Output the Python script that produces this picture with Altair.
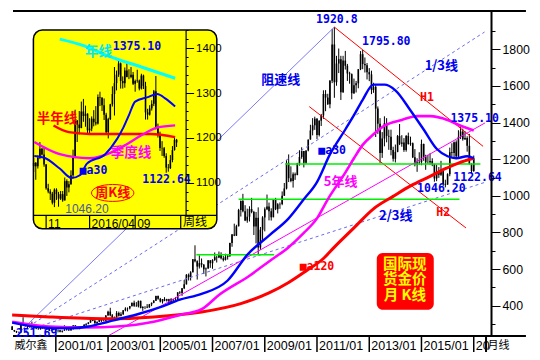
import altair as alt
import pandas as pd

# ---------------- monthly gold candles 1999/05 - 2017/01 ----------------
m_first_open = 287
m_close = [268, 261, 255, 255, 299, 299, 292, 290,
           283, 293, 278, 274, 272, 289, 276, 277, 273, 264, 270, 273,
           265, 267, 258, 264, 267, 271, 265, 273, 293, 279, 275, 279,
           282, 297, 301, 309, 326, 318, 304, 312, 324, 317, 318, 347,
           368, 348, 334, 337, 361, 346, 354, 375, 385, 386, 398, 416,
           400, 397, 427, 388, 394, 395, 391, 408, 416, 428, 453, 438,
           423, 436, 428, 436, 417, 436, 429, 433, 473, 470, 495, 517,
           569, 556, 583, 654, 643, 614, 633, 624, 599, 604, 648, 632,
           650, 665, 663, 681, 659, 650, 666, 673, 743, 789, 783, 834,
           923, 972, 916, 865, 886, 928, 912, 833, 880, 718, 815, 882,
           927, 942, 916, 883, 979, 927, 954, 955, 1001, 1040, 1180, 1096,
           1081, 1118, 1113, 1179, 1212, 1244, 1181, 1248, 1307, 1357, 1385, 1421,
           1332, 1410, 1439, 1556, 1536, 1500, 1628, 1826, 1620, 1722, 1746, 1565,
           1738, 1710, 1668, 1664, 1560, 1604, 1614, 1691, 1773, 1719, 1713, 1675,
           1663, 1578, 1595, 1476, 1393, 1234, 1313, 1396, 1327, 1323, 1250, 1202,
           1240, 1326, 1284, 1291, 1250, 1327, 1282, 1287, 1210, 1171, 1182, 1184,
           1283, 1213, 1183, 1183, 1190, 1172, 1095, 1133, 1115, 1142, 1065, 1061,
           1118, 1238, 1234, 1293, 1215, 1322, 1351, 1309, 1316, 1273, 1173, 1135,
           1205]
m_high = [290, 268, 263, 259, 307, 338, 301, 295,
          293, 314, 295, 286, 281, 294, 291, 280, 278, 273, 272, 275,
          274, 271, 269, 265, 294, 274, 272, 279, 294, 294, 286, 280,
          288, 300, 305, 310, 327, 332, 323, 315, 326, 325, 323, 349,
          373, 389, 355, 341, 371, 368, 365, 376, 392, 391, 399, 417,
          428, 420, 428, 428, 397, 398, 409, 410, 418, 431, 455, 456,
          443, 437, 447, 438, 438, 442, 438, 448, 474, 480, 497, 541,
          573, 576, 589, 655, 730, 648, 675, 658, 628, 609, 649, 649,
          654, 691, 673, 696, 692, 672, 684, 676, 744, 792, 848, 842,
          929, 975, 1011, 949, 930, 943, 989, 918, 912, 937, 830, 889,
          937, 1007, 963, 932, 980, 989, 960, 964, 1024, 1070, 1195, 1226,
          1161, 1128, 1127, 1180, 1249, 1265, 1245, 1248, 1307, 1388, 1424, 1432,
          1424, 1412, 1447, 1576, 1577, 1557, 1632, 1911, 1920.8, 1764, 1804, 1764,
          1764, 1791, 1720, 1677, 1668, 1640, 1627, 1692, 1790, 1795.8, 1755, 1725,
          1697, 1683, 1617, 1604, 1488, 1424, 1348, 1434, 1424, 1361, 1361, 1268,
          1280, 1332, 1392, 1331, 1315, 1332, 1345, 1323, 1291, 1255, 1205, 1238,
          1307, 1285, 1224, 1224, 1232, 1205, 1175, 1170, 1157, 1191, 1142, 1088,
          1123, 1263, 1287, 1297, 1303, 1358, 1375.1, 1367, 1352, 1325, 1338, 1178,
          1220]
m_low = [268, 257, 252, 251.69, 253, 291, 288, 278,
         281, 280, 276, 272, 270, 270, 276, 271, 270, 263, 263, 267,
         263, 255, 255, 254, 263, 265, 264, 265, 270, 276, 273, 271,
         276, 280, 290, 299, 307, 316, 302, 301, 312, 312, 315, 317,
         346, 343, 327, 321, 335, 341, 342, 350, 370, 369, 380, 397,
         394, 395, 391, 386, 372, 382, 387, 389, 398, 414, 426, 433,
         418, 412, 425, 423, 414, 414, 418, 427, 432, 463, 454, 491,
         516, 538, 538, 582, 637, 543, 603, 609, 573, 560, 602, 607,
         602, 645, 636, 660, 653, 642, 647, 652, 666, 722, 780, 781,
         833, 887, 910, 862, 853, 860, 905, 786, 740, 681, 705, 756,
         806, 922, 866, 865, 883, 922, 904, 929, 949, 999, 1035, 1075,
         1074, 1045, 1087, 1113, 1165, 1202, 1155, 1175, 1243, 1307, 1330, 1360,
         1309, 1324, 1381, 1420, 1462, 1496, 1478, 1615, 1535, 1601, 1670, 1523,
         1562, 1689, 1627, 1612, 1527, 1556, 1564, 1587, 1686, 1691, 1673, 1635,
         1626, 1555, 1562, 1321, 1338, 1180, 1207, 1270, 1292, 1251, 1221, 1187,
         1182, 1238, 1277, 1268, 1240, 1241, 1280, 1273, 1206, 1161, 1131, 1170,
         1167, 1191, 1142, 1175, 1170, 1162, 1077, 1080, 1098, 1109, 1052, 1046.2,
         1061, 1107, 1208, 1208, 1200, 1208, 1310, 1301, 1305, 1241, 1171, 1122.64,
         1131]

# ---------------- weekly gold candles (inset) 2015/09/21 - 2017/01/16 ----------------
w_first_open = 1137
w_close = [1145, 1137, 1156, 1176, 1163, 1141, 1088, 1081, 1076, 1056, 1085, 1075, 1065, 1075, 1061,
           1104, 1090, 1097, 1117, 1158, 1239, 1230, 1222, 1259, 1249, 1254, 1217, 1221, 1243, 1235,
           1232, 1291, 1290, 1273, 1252, 1213, 1242, 1275, 1298, 1322, 1341, 1366, 1327, 1322, 1350,
           1336, 1336, 1341, 1321, 1327, 1328, 1310, 1339, 1316, 1257, 1252, 1266, 1276, 1304, 1225,
           1207, 1178, 1177, 1160, 1134, 1133, 1151, 1173, 1196, 1190]
w_high = [1156, 1146, 1161, 1191, 1178, 1180, 1142, 1098, 1086, 1080, 1088, 1088, 1080, 1082, 1082,
          1112, 1108, 1104, 1128, 1174, 1263, 1240, 1260, 1281, 1287, 1272, 1255, 1244, 1248, 1262,
          1271, 1297, 1303, 1290, 1288, 1256, 1245, 1276, 1315, 1358, 1350, 1375.1, 1368, 1337, 1357,
          1368, 1353, 1358, 1347, 1330, 1352, 1330, 1343, 1341, 1325, 1265, 1273, 1284, 1307, 1338,
          1232, 1214, 1193, 1180, 1166, 1142, 1162, 1182, 1200, 1198]
w_low = [1124, 1107, 1132, 1153, 1161, 1136, 1085, 1077, 1062, 1052, 1046.2, 1062, 1047, 1062, 1058,
         1061, 1071, 1079, 1096, 1110, 1155, 1191, 1208, 1222, 1236, 1225, 1208, 1208, 1215, 1226,
         1228, 1230, 1271, 1260, 1240, 1208, 1199, 1240, 1270, 1250, 1306, 1336, 1310, 1310, 1312,
         1335, 1331, 1333, 1318, 1303, 1323, 1306, 1308, 1309, 1241, 1241, 1250, 1261, 1271, 1219,
         1201, 1171, 1160, 1156, 1122.64, 1125, 1131, 1146, 1172, 1180]

# ---------------- moving averages ----------------
ma30_dates = ["1999-05-01", "2000-06-01", "2001-07-01", "2002-04-01", "2003-01-01", "2004-03-01",
              "2005-02-01", "2005-10-01", "2006-08-01", "2007-08-01", "2008-05-01", "2009-03-01",
              "2009-12-01", "2010-07-01", "2011-01-01", "2011-07-01", "2012-02-01", "2012-06-01",
              "2012-10-01", "2013-03-01", "2013-08-01", "2014-01-01", "2014-08-01", "2015-02-01",
              "2015-08-01", "2016-01-01", "2016-05-01", "2016-10-01", "2017-01-01"]
ma30_vals = [308, 282, 277, 287, 313, 355, 397, 433, 465, 538, 678, 783, 877, 981, 1075, 1226,
             1362, 1440, 1524, 1607, 1607, 1576, 1466, 1362, 1257, 1216, 1205, 1216, 1205]
ma60_dates = ["1999-05-01", "2000-10-01", "2002-04-01", "2003-05-01", "2004-10-01", "2005-10-01",
              "2006-08-01", "2007-04-01", "2008-06-01", "2009-03-01", "2009-12-01", "2010-07-01",
              "2011-01-01", "2011-06-01", "2012-02-01", "2012-06-01", "2012-10-01", "2013-03-01",
              "2013-08-01", "2014-04-01", "2014-11-01", "2015-05-01", "2016-01-01", "2016-06-01",
              "2017-01-01"]
ma60_vals = [313, 287, 282, 287, 313, 350, 381, 459, 564, 642, 720, 798, 877, 981, 1127, 1205,
             1278, 1336, 1383, 1414, 1435, 1435, 1414, 1388, 1357]
ma120_dates = ["1999-05-01", "2000-10-01", "2003-01-01", "2004-10-01", "2006-08-01", "2008-02-01",
               "2009-03-01", "2009-12-01", "2010-08-01", "2011-04-01", "2011-09-01", "2012-06-01",
               "2013-03-01", "2013-12-01", "2014-08-01", "2015-05-01", "2015-12-01", "2016-06-01",
               "2017-01-01"]
ma120_vals = [350, 339, 329, 339, 366, 412, 470, 527, 590, 658, 720, 825, 929, 997, 1054, 1106,
              1148, 1179, 1205]

w_year_dates = ["2015-12-18", "2016-03-10", "2016-05-29", "2016-09-19", "2017-01-11"]
w_year_vals = [1420, 1405, 1383, 1358, 1333]
w_ma30_dates = ["2015-09-23", "2015-10-27", "2015-12-18", "2016-01-27", "2016-02-24", "2016-03-19",
                "2016-05-20", "2016-06-29", "2016-07-20", "2016-08-08", "2016-08-29", "2016-10-11",
                "2016-11-11", "2016-12-11", "2017-01-11"]
w_ma30_vals = [1160, 1156, 1132, 1111, 1117, 1143, 1164, 1198, 1223, 1251, 1281, 1291, 1298, 1287, 1270]
w_half_dates = ["2015-11-27", "2016-01-18", "2016-03-28", "2016-10-20", "2017-01-11"]
w_half_vals = [1228, 1213, 1209, 1209, 1202]
w_qtr_dates = ["2015-09-23", "2015-12-18", "2016-03-28", "2016-06-10", "2016-07-29", "2016-09-19",
               "2016-11-11", "2017-01-11"]
w_qtr_vals = [1191, 1164, 1155, 1168, 1185, 1206, 1223, 1228]

# ---------------- drawn trend lines (start date, start value, end date, end value) ----------------
speed_line = [("1999-08-01", 251.69, "2011-09-01", 1920.8)]
third_lines = [("1999-08-01", 251.69, "2017-06-01", 1894), ("1999-08-01", 251.69, "2017-06-01", 1073)]
channel_lines = [("2011-09-01", 1920.8, "2017-05-12", 1270), ("2010-09-15", 1487, "2016-09-15", 824.5)]
pink_lines = [("2003-01-01", 235, "2017-06-08", 1398)]
green_lines = [("2009-10-15", 1174, "2017-04-04", 1174), ("2008-01-01", 981, "2016-06-16", 981),
               ("2006-05-20", 678, "2009-05-13", 678)]

# ---------------- time-axis ticks (separators) and their labels ----------------
main_tick_dates = ["2001-01-01", "2003-01-01", "2005-01-01", "2007-01-01", "2009-01-01",
                   "2011-01-01", "2013-01-01", "2015-01-01", "2017-01-01"]
main_tick_labels = ["2001/01", "2003/01", "2005/01", "2007/01", "2009/01",
                    "2011/01", "2013/01", "2015/01", "20"]
inset_tick_weeks = ["2015-11-02", "2016-03-28", "2016-08-29"]   # first weekly bar closing in the month
inset_tick_labels = ["11", "2016/04", "09"]

# ---------------- labels ----------------
num_labels = (["1920.8", "1795.80", "1375.10", "1046.20", "1122.64", "251.69", "■a30"],
              ["2011-10-06", "2013-08-27", "2017-01-14", "2015-10-06", "2017-02-23", "2000-04-08", "2011-08-01"],
              [1959, 1837, 1419, 1038, 1098, 248, 1247])
cjk_blue_labels = (["阻速线", "1/3线", "2/3线"], ["2009-08-13", "2015-10-06", "2014-01-07"], [1633, 1706, 892])
red_labels = (["H1", "H2", "■a120"], ["2015-03-20", "2015-11-01", "2011-01-01"], [1534, 908, 611])
pink_labels = (["5年线"], ["2011-11-28"], [1075])
box_lines = (["国际现", "货金价", "月 K线"], ["2014-05-14"] * 3, [622.0, 539.0, 455.5])
black_labels = (["威尔鑫", "月线"], ["2000-01-20", "2017-12-13"], [178, 180])

in_num_labels = (["1375.10", "1122.64", "■a30"], ["2016-09-04", "2016-12-13", "2016-04-10"], [1402, 1107.4, 1126.6])
in_low_label = (["1046.20"], ["2016-03-19"], [1042.6])
in_year_label = (["年线"], ["2016-04-27"], [1391.5])
in_half_label = (["半年线"], ["2015-12-09"], [1242.6])
in_qtr_label = (["季度线"], ["2016-08-15"], [1166])
in_week_label = (["周K线"], ["2016-06-14"], [1077.7])
in_axis_label = (["周线"], ["2017-02-07"], [1012.8])


def to_dt(lst):
    return pd.to_datetime(list(lst), format="%Y-%m-%d")


def lab_df(t):
    return pd.DataFrame({"text": t[0], "date": to_dt(t[1]), "value": t[2]})


def seg_df(rows):
    return pd.DataFrame({"x1": to_dt([r[0] for r in rows]), "y1": [r[1] for r in rows],
                         "x2": to_dt([r[2] for r in rows]), "y2": [r[3] for r in rows]})


def line_df(d, v):
    return pd.DataFrame({"date": to_dt(d), "value": v})


MAIN_BOTTOM, MAIN_TOP, MAIN_BAND = 235.05, 2008.7, 146.4
IN_BOTTOM, IN_TOP, IN_BAND, IN_LABEL = 1027.7, 1440.4, 997.9, 1000.1

monthly = pd.DataFrame({"date": pd.date_range("1999-05-01", periods=len(m_close), freq="MS"),
                        "open": [m_first_open] + m_close[:-1], "high": m_high, "low": m_low,
                        "close": m_close})
weekly = pd.DataFrame({"date": pd.date_range("2015-09-21", periods=len(w_close), freq="W-MON"),
                       "open": [w_first_open] + w_close[:-1], "high": w_high, "low": w_low,
                       "close": w_close})
tick_map = dict(zip(to_dt(inset_tick_weeks), inset_tick_labels))
weekly["lab"] = [tick_map.get(d, "") for d in weekly["date"]]
weekly["ya"] = IN_BOTTOM
weekly["yb"] = IN_BAND
weekly["yl"] = IN_LABEL

# ---------------- scales ----------------
xs = alt.Scale(domain=[alt.DateTime(year=1999, month=5, date=13),
                       alt.DateTime(year=2017, month=6, date=21, hours=12)], nice=False)
ys = alt.Scale(domain=[MAIN_BOTTOM, MAIN_TOP], nice=False, zero=False)
xi = alt.Scale(domain=[alt.DateTime(year=2015, month=9, date=20),
                       alt.DateTime(year=2017, month=1, date=29, hours=14)],
               range=[20.4, 177.6], nice=False)
yi = alt.Scale(domain=[IN_BOTTOM, IN_TOP], range=[204.4, 19.0], nice=False, zero=False)

AX = "Liberation Sans"
MONO = "DejaVu Sans Mono"
CJK = "Noto Sans CJK SC"

y_axis_main = alt.Axis(orient="right", values=list(range(400, 1801, 200)), format="d", tickSize=9,
                       tickWidth=1, tickColor="black", domainWidth=2, domainColor="black", labelPadding=2,
                       labelFont=AX, labelFontSize=12.3, labelColor="black", labelFlush=False,
                       labelOverlap=False, grid=False, title=None, zindex=1)
y_axis_minor = alt.Axis(orient="right", values=list(range(300, 2000, 100)), tickSize=4, tickWidth=1,
                        tickColor="black", domain=False, labels=False, grid=False, title=None, zindex=1)
y_axis_in = alt.Axis(orient="right", offset=-305.4, values=[1100, 1200, 1300, 1400], format="d",
                     tickSize=8, tickWidth=1, tickColor="black", domainWidth=1.2, domainColor="black",
                     labelPadding=2, labelFont=AX, labelFontSize=11.5, labelColor="black",
                     labelFlush=False, labelOverlap=False, grid=False, title=None, zindex=1)
y_axis_in_minor = alt.Axis(orient="right", offset=-305.4, values=list(range(1040, 1441, 20)), tickSize=2.5,
                           tickWidth=1, tickColor="black", domain=False, labels=False, grid=False,
                           title=None, zindex=1)


def X(f, sc):
    return alt.X(f, type="temporal", scale=sc, axis=None)


def Y(f, sc, axis=None):
    return alt.Y(f, type="quantitative", scale=sc, axis=axis)


def seg_layer(rows, sx, sy, **kw):
    return alt.Chart(seg_df(rows)).mark_rule(**kw).encode(
        x=X("x1", sx), x2="x2", y=Y("y1", sy), y2="y2")


def line_layer(d, v, sx, sy, **kw):
    return alt.Chart(line_df(d, v)).mark_line(interpolate="monotone", **kw).encode(
        x=X("date", sx), y=Y("value", sy))


def text_layer(t, sx, sy, color, font, size, weight="bold", align="center", baseline="middle", dx=0):
    return alt.Chart(lab_df(t)).mark_text(color=color, font=font, fontSize=size, fontWeight=weight,
                                           align=align, baseline=baseline, dx=dx).encode(
        x=X("date", sx), y=Y("value", sy), text="text:N")


# ---------------- main monthly chart ----------------
wicks = alt.Chart(monthly).mark_rule(color="black", strokeWidth=1).encode(
    x=X("date", xs), y=Y("low", ys, y_axis_main), y2="high")
bodies = alt.Chart(monthly).mark_bar(color="black", size=1.6).encode(
    x=X("date", xs), y=Y("open", ys, y_axis_minor), y2="close")

frame = pd.DataFrame({"x1": to_dt(["1999-05-13", "1999-05-13", "2017-06-22"]),
                      "x2": to_dt(["2019-01-01", "2019-01-01", "2017-06-22"]),
                      "y1": [MAIN_TOP, MAIN_BOTTOM, MAIN_BAND], "y2": [MAIN_TOP, MAIN_BOTTOM, MAIN_BOTTOM]})
frame_layer = alt.Chart(frame).mark_rule(color="black", strokeWidth=2).encode(
    x=X("x1", xs), x2="x2", y=Y("y1", ys), y2="y2")

box_df = pd.DataFrame({"x1": to_dt(["2013-04-16"]), "x2": to_dt(["2015-06-22"]),
                       "y1": [688.0], "y2": [378.0]})
box_layer = alt.Chart(box_df).mark_rect(color="#ff0000", cornerRadius=6).encode(
    x=X("x1", xs), x2="x2", y=Y("y1", ys), y2="y2")

mt = pd.DataFrame({"m_tick": to_dt(main_tick_dates), "m_lab": main_tick_labels,
                   "m_ya": MAIN_BOTTOM, "m_yb": MAIN_BAND, "m_yl": 157.0})
m_seps = alt.Chart(mt).mark_rule(color="black", strokeWidth=1.5).encode(
    x=X("m_tick", xs), y=Y("m_ya", ys), y2="m_yb")
m_labs = alt.Chart(mt).mark_text(color="black", font=AX, fontSize=12.5, align="left",
                                 baseline="alphabetic", dx=2).encode(
    x=X("m_tick", xs), y=Y("m_yl", ys), text="m_lab:N")

main = alt.layer(
    wicks, bodies,
    seg_layer(speed_line, xs, ys, color="#7b7bf5", strokeWidth=1),
    seg_layer(third_lines, xs, ys, color="#6a6af0", strokeWidth=1, strokeDash=[3, 3]),
    seg_layer(channel_lines, xs, ys, color="#ff0000", strokeWidth=1),
    seg_layer(pink_lines, xs, ys, color="#ff00ff", strokeWidth=1),
    seg_layer(green_lines, xs, ys, color="#00ee00", strokeWidth=1.5),
    line_layer(ma120_dates, ma120_vals, xs, ys, color="#ff0000", strokeWidth=3),
    line_layer(ma60_dates, ma60_vals, xs, ys, color="#ff00ff", strokeWidth=2.6),
    line_layer(ma30_dates, ma30_vals, xs, ys, color="#0000ff", strokeWidth=2.4),
    frame_layer, box_layer, m_seps, m_labs,
    text_layer(num_labels, xs, ys, "#0000ee", MONO, 11.5),
    text_layer(cjk_blue_labels, xs, ys, "#0000ee", CJK, 13),
    text_layer(red_labels, xs, ys, "#ff0000", MONO, 11.5),
    text_layer(pink_labels, xs, ys, "#ff00ff", CJK, 13),
    text_layer(box_lines, xs, ys, "#ffff00", CJK, 14.5),
    text_layer(black_labels, xs, ys, "black", CJK, 11, weight="normal"),
).resolve_axis(y="independent")

# ---------------- inset weekly chart ----------------
ibox = pd.DataFrame({"x1": to_dt(["2015-09-20"]), "x2": to_dt(["2017-06-01"]),
                     "y1": [IN_TOP], "y2": [IN_BAND]})
ibox_layer = alt.Chart(ibox).mark_rect(color="#ffff00", stroke="black", strokeWidth=1.5, cornerRadius=9).encode(
    x=X("x1", xi), x2="x2", y=Y("y1", yi), y2="y2")
ibase_layer = seg_layer([("2015-09-20", IN_BOTTOM, "2017-06-01", IN_BOTTOM),
                         ("2017-01-30", IN_BOTTOM, "2017-01-30", IN_BAND)], xi, yi,
                        color="black", strokeWidth=1.2)
iwicks = alt.Chart(weekly).mark_rule(color="black", strokeWidth=1).encode(
    x=X("date", xi), y=Y("low", yi, y_axis_in), y2="high")
ibodies = alt.Chart(weekly).mark_bar(color="black", size=1.6).encode(
    x=X("date", xi), y=Y("open", yi, y_axis_in_minor), y2="close")
i_seps = alt.Chart(weekly).transform_filter("datum.lab != ''").mark_rule(color="black", strokeWidth=1.2).encode(
    x=X("date", xi), y=Y("ya", yi), y2="yb")
i_labs = alt.Chart(weekly).transform_filter("datum.lab != ''").mark_text(
    color="black", font=AX, fontSize=12, align="left", baseline="alphabetic", dx=2).encode(
    x=X("date", xi), y=Y("yl", yi), text="lab:N")
iellipse = alt.Chart(lab_df(in_week_label)).mark_point(
    shape="M -1 0 A 1 0.4 0 1 0 1 0 A 1 0.4 0 1 0 -1 0 Z", size=1800, filled=False,
    color="#ff0000", strokeWidth=1, opacity=1).encode(x=X("date", xi), y=Y("value", yi))

inset = alt.layer(
    ibox_layer, ibase_layer, iwicks, ibodies, i_seps, i_labs,
    line_layer(w_year_dates, w_year_vals, xi, yi, color="#00ffff", strokeWidth=3),
    line_layer(w_half_dates, w_half_vals, xi, yi, color="#ff0000", strokeWidth=2.4),
    line_layer(w_qtr_dates, w_qtr_vals, xi, yi, color="#ff00ff", strokeWidth=2.4),
    line_layer(w_ma30_dates, w_ma30_vals, xi, yi, color="#0000ff", strokeWidth=2),
    iellipse,
    text_layer(in_num_labels, xi, yi, "#0000ee", MONO, 11.5),
    text_layer(in_low_label, xi, yi, "#4a5a9a", AX, 12, weight="normal"),
    text_layer(in_year_label, xi, yi, "#00e8f0", CJK, 13.5),
    text_layer(in_half_label, xi, yi, "#ff0000", CJK, 13.5),
    text_layer(in_qtr_label, xi, yi, "#ff00ff", CJK, 13.5),
    text_layer(in_week_label, xi, yi, "#ff0000", CJK, 13),
    text_layer(in_axis_label, xi, yi, "black", CJK, 12, weight="normal", align="left"),
).resolve_axis(y="independent")

chart = alt.layer(main, inset).resolve_scale(x="independent", y="independent").properties(
    width=483, height=325,
    autosize=alt.AutoSizeParams(type="none"),
    padding={"left": 0, "top": 3, "right": 41, "bottom": 16},
    background="white",
).configure_view(stroke=None)

chart.save("out.html", embed_options={"renderer": "svg", "actions": False})
